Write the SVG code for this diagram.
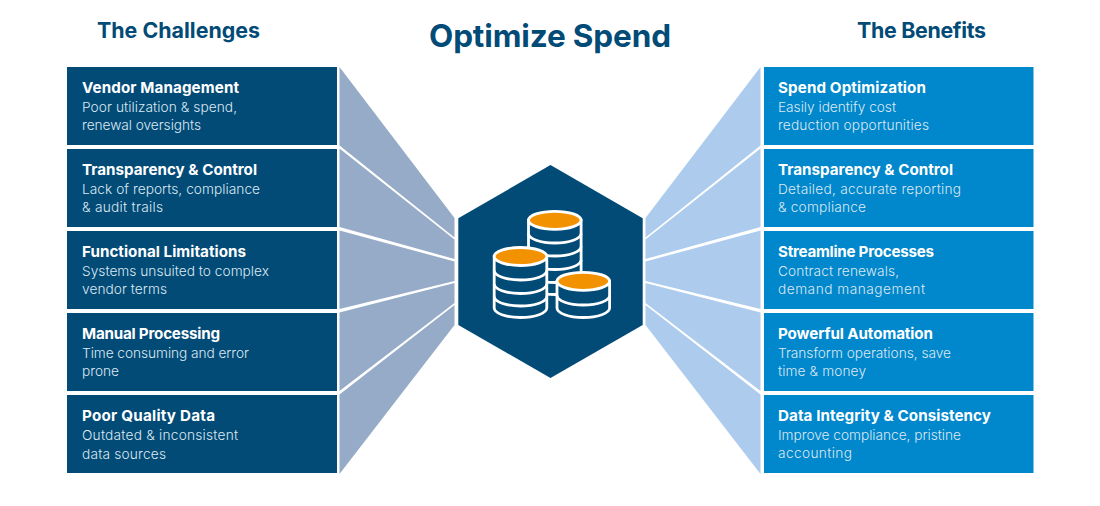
<svg xmlns="http://www.w3.org/2000/svg" width="1100" height="506" viewBox="0 0 1100 506">
<style>
text{font-family:"Inter","Liberation Sans",sans-serif}
.h{font-weight:700;fill:#024b77}
.t{font-size:15.2px;font-weight:700;fill:#fff}
.d{font-size:13.7px;font-weight:300;fill:#dde8f1}
.l{fill:#024b77}.r{fill:#0087cc}
.fl{fill:#96abc8}.fr{fill:#adcbec}
.ln{fill:none;stroke:#fff;stroke-width:2.8}
.c{fill:#024b77;stroke:#fff;stroke-width:2.8}
.o{fill:#f39200;stroke:#fff;stroke-width:2.8}
</style>
<text class="h" x="97" y="38" font-size="21.4" textLength="163">The Challenges</text>
<text class="h" x="429" y="47" font-size="31.5" textLength="242">Optimize Spend</text>
<text class="h" x="857" y="38" font-size="21.4" textLength="129">The Benefits</text>
<g id="connectors">
<polygon class="fl" points="339.500,67 339.500,145.500 454.500,237.500 454.500,218"/>
<polygon class="fl" points="339.500,148.500 339.500,227 454.500,259 454.500,239.500"/>
<polygon class="fl" points="339.500,230.500 339.500,309 454.500,281 454.500,261.500"/>
<polygon class="fl" points="339.500,312.500 339.500,391 454.500,303 454.500,283"/>
<polygon class="fl" points="339.500,394.500 339.500,474 454.500,325 454.500,305"/>
<polygon class="fr" points="760.500,67 760.500,145.500 645.500,237.500 645.500,218"/>
<polygon class="fr" points="760.500,148.500 760.500,227 645.500,259 645.500,239.500"/>
<polygon class="fr" points="760.500,230.500 760.500,309 645.500,281 645.500,261.500"/>
<polygon class="fr" points="760.500,312.500 760.500,391 645.500,303 645.500,283"/>
<polygon class="fr" points="760.500,394.500 760.500,474 645.500,325 645.500,305"/>
</g>
<g id="challenge-1"><rect class="l" x="67" y="67" width="270" height="78"/><text class="t" x="82" y="93" textLength="157">Vendor Management</text><text class="d" x="82" y="112" textLength="155">Poor utilization &amp; spend,</text><text class="d" x="82" y="130" textLength="119">renewal oversights</text></g>
<g id="challenge-2"><rect class="l" x="67" y="149" width="270" height="78"/><text class="t" x="82" y="175" textLength="175">Transparency &amp; Control</text><text class="d" x="82" y="194" textLength="178">Lack of reports, compliance</text><text class="d" x="82" y="212" textLength="81">&amp; audit trails</text></g>
<g id="challenge-3"><rect class="l" x="67" y="231" width="270" height="78"/><text class="t" x="82" y="257" textLength="164">Functional Limitations</text><text class="d" x="82" y="276" textLength="187">Systems unsuited to complex</text><text class="d" x="82" y="294" textLength="85">vendor terms</text></g>
<g id="challenge-4"><rect class="l" x="67" y="313" width="270" height="78"/><text class="t" x="82" y="339" textLength="138">Manual Processing</text><text class="d" x="82" y="357.500" textLength="167">Time consuming and error</text><text class="d" x="82" y="375.500" textLength="37">prone</text></g>
<g id="challenge-5"><rect class="l" x="67" y="395" width="270" height="78"/><text class="t" x="82" y="421.300" textLength="133">Poor Quality Data</text><text class="d" x="82" y="440" textLength="156">Outdated &amp; inconsistent</text><text class="d" x="82" y="458.500" textLength="84">data sources</text></g>
<g id="benefit-1"><rect class="r" x="764" y="67" width="269.500" height="78"/><text class="t" x="778" y="93" textLength="148">Spend Optimization</text><text class="d" x="778" y="112" textLength="118">Easily identify cost</text><text class="d" x="778" y="130" textLength="151">reduction opportunities</text></g>
<g id="benefit-2"><rect class="r" x="764" y="149" width="269.500" height="78"/><text class="t" x="778" y="175" textLength="175">Transparency &amp; Control</text><text class="d" x="778" y="194" textLength="183">Detailed, accurate reporting</text><text class="d" x="778" y="212" textLength="88">&amp; compliance</text></g>
<g id="benefit-3"><rect class="r" x="764" y="231" width="269.500" height="78"/><text class="t" x="778" y="257" textLength="156">Streamline Processes</text><text class="d" x="778" y="276" textLength="121">Contract renewals,</text><text class="d" x="778" y="294" textLength="147">demand management</text></g>
<g id="benefit-4"><rect class="r" x="764" y="313" width="269.500" height="78"/><text class="t" x="778" y="339" textLength="155">Powerful Automation</text><text class="d" x="778" y="357.500" textLength="173">Transform operations, save</text><text class="d" x="778" y="375.500" textLength="88">time &amp; money</text></g>
<g id="benefit-5"><rect class="r" x="764" y="395" width="269.500" height="78"/><text class="t" x="778" y="421" textLength="213">Data Integrity &amp; Consistency</text><text class="d" x="778" y="440" textLength="183">Improve compliance, pristine</text><text class="d" x="778" y="458" textLength="74">accounting</text></g>
<g id="hub">
<polygon class="l" points="550.500,165 642.700,218.300 642.700,325 550.500,378 458.300,325 458.300,218.300"/>
<path class="c" d="M528.500,220.300V285A26.300,9.500 0 0 0 581.100,285V220.300Z"/>
<path class="ln" d="M528.500,233.500a26.300,9.500 0 0 0 52.600,0M528.500,246.500a26.300,9.500 0 0 0 52.600,0M528.500,260a26.300,9.500 0 0 0 52.600,0M528.500,273a26.300,9.500 0 0 0 52.600,0"/>
<ellipse class="o" cx="554.800" cy="220.300" rx="26.300" ry="9"/>
<path class="c" d="M494.200,256.500V308A26.300,9.500 0 0 0 546.800,308V256.500Z"/>
<path class="ln" d="M494.200,270.500a26.300,9.500 0 0 0 52.600,0M494.200,284a26.300,9.500 0 0 0 52.600,0M494.200,296.500a26.300,9.500 0 0 0 52.600,0"/>
<ellipse class="o" cx="520.500" cy="256.500" rx="26.300" ry="9"/>
<path class="c" d="M557,281.300V308A26.300,9.500 0 0 0 609.600,308V281.300Z"/>
<path class="ln" d="M557,295.500a26.300,9.500 0 0 0 52.600,0"/>
<ellipse class="o" cx="583.300" cy="281.300" rx="26.300" ry="9"/>
</g>
</svg>
